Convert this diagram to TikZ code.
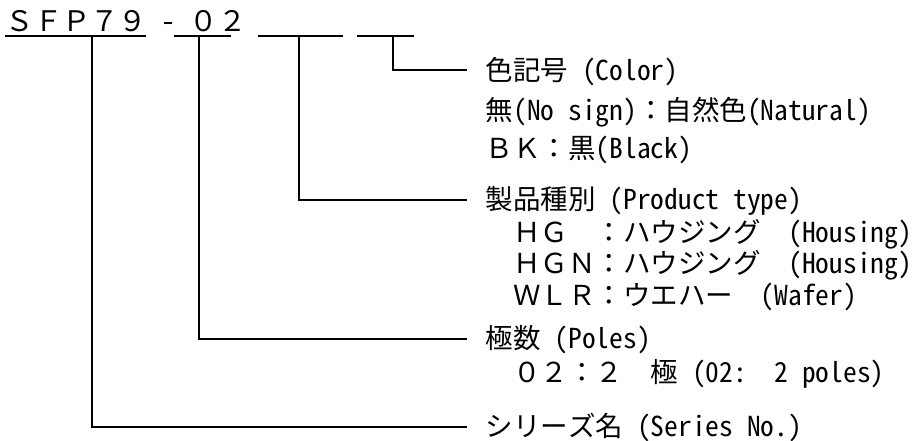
\documentclass[tikz,border=0pt]{standalone}
\usepackage{fontspec}
\setmainfont{Noto Sans Mono CJK JP}
\begin{document}
\begin{tikzpicture}[x=1pt,y=-1pt,line width=1.6pt,
  lbl/.style={anchor=base west,inner sep=0pt,font=\fontsize{27.5}{30}\selectfont},
  codetxt/.style={anchor=base west,inner sep=0pt,font=\fontsize{28.3}{30}\selectfont}]
\useasboundingbox (0,0) rectangle (921,441);
% part number
\node[codetxt] (code) at (5,32) {ＳＦＰ７９\ -\ ０２};
% underline ends
\coordinate (a1) at (5,36);   \coordinate (a2) at (146,36);
\coordinate (b1) at (174,36); \coordinate (b2) at (231,36);
\coordinate (c1) at (258,36); \coordinate (c2) at (343,36);
\coordinate (d1) at (357,36); \coordinate (d2) at (414,36);
\draw (a1) -- (a2);
\draw (b1) -- (b2);
\draw (c1) -- (c2);
\draw (d1) -- (d2);
% tap points
\coordinate (ta) at (92,36);
\coordinate (tb) at (199,36);
\coordinate (tc) at (299,36);
\coordinate (td) at (393,36);
% connector ends
\coordinate (ed) at (467,70);
\coordinate (ec) at (467,200);
\coordinate (eb) at (467,339);
\coordinate (ea) at (467,427);
\draw (td) |- (ed);
\draw (tc) |- (ec);
\draw (tb) |- (eb);
\draw (ta) |- (ea);
% labels
\node[lbl] (col)  at (485,81)  {色記号 (Color)};
\node[lbl] (col1) at (485,121) {無(No sign)：自然色(Natural)};
\node[lbl] (col2) at (485,158) {ＢＫ：黒(Black)};
\node[lbl] (typ)  at (485,209) {製品種別 (Product type)};
\node[lbl] (typ1) at (485,242) {　ＨＧ　：ハウジング　(Housing)};
\node[lbl] (typ2) at (485,273) {　ＨＧＮ：ハウジング　(Housing)};
\node[lbl] (typ3) at (485,305) {　ＷＬＲ：ウエハー　(Wafer)};
\node[lbl] (pol)  at (485,348) {極数 (Poles)};
\node[lbl] (pol1) at (485,382) {　０２：２　極 (02:\ \ 2 poles)};
\node[lbl] (ser)  at (485,436) {シリーズ名 (Series No.)};
\end{tikzpicture}
\end{document}
